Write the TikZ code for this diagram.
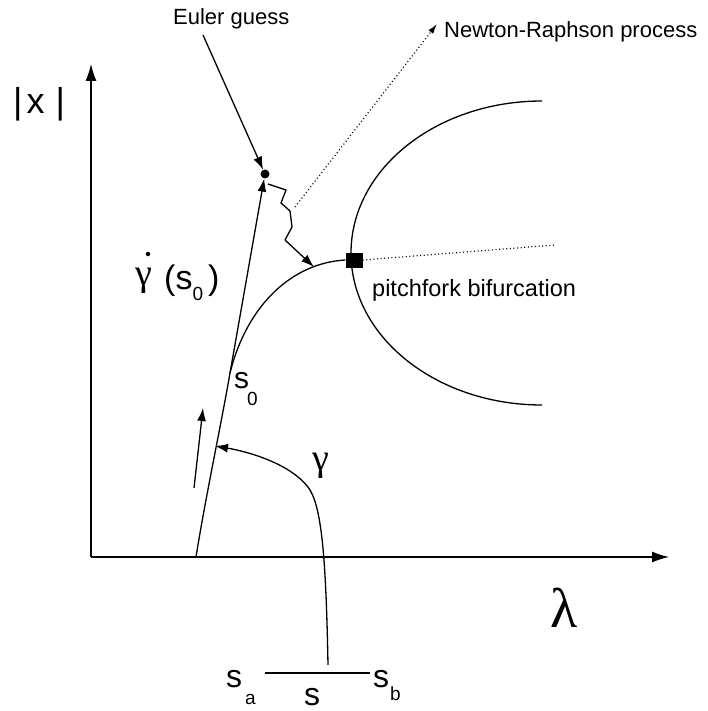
\documentclass[tikz,border=0pt]{standalone}
\usepackage{fontspec}
\setmainfont{Liberation Sans}
\newfontfamily\grk{Liberation Serif}
\usetikzlibrary{arrows.meta}
\tikzset{
  ln/.style={line width=1.3pt},
  arr/.style={ln,-{Latex[length=13pt,width=9pt]}},
  axarr/.style={ln,-{Latex[length=17pt,width=11pt]}},
  dots/.style={line width=1.2pt,dash pattern=on 1pt off 2.6pt},
  lbl/.style={inner sep=0pt,font=\fontsize{22}{22}\selectfont},
  big/.style={inner sep=0pt,font=\fontsize{34}{34}\selectfont},
  sub/.style={inner sep=0pt,font=\fontsize{19}{19}\selectfont},
}
\begin{document}
\begin{tikzpicture}[x=1pt,y=-1pt]
\useasboundingbox (0,0) rectangle (707,711);
% axes
\coordinate (O) at (91,557);
\coordinate (Y) at (91,64);
\coordinate (X) at (669,557);
\draw[axarr] (O) -- (Y);
\draw[axarr] (O) -- (X);
% labels of axes
\node[anchor=base west,inner sep=0pt,font=\fontsize{36}{36}\selectfont] (xl) at (13,114) {|\kern4pt x \kern1pt|};
\node[inner sep=0pt,font=\grk\fontsize{56}{56}\selectfont] (lam) at (564,608) {λ};
% points
\node[circle,fill,inner sep=0pt,minimum size=9pt] (E) at (265,174) {};
\node[fill,inner sep=0pt,minimum width=17pt,minimum height=15pt] (B) at (354,260) {};
\coordinate (C0) at (196,557);
\coordinate (S0) at (230,373);
% solution curve
\draw[ln] (C0) .. controls (205,500) and (222,420) .. (S0)
  .. controls (247,305) and (292,263) .. (B.west);
% tangent (Euler predictor)
\draw[arr] (S0) -- (E);
% pitchfork half ellipse
\coordinate (PT) at (542,101);
\coordinate (PL) at (351,253);
\coordinate (PB) at (542,405);
\draw[ln] (PT) .. controls (436.5,101) and (351,169) .. (PL)
  .. controls (351,337) and (436.5,405) .. (PB);
% dotted continuation
\coordinate (DE) at (555,245);
\draw[dots] (B.east) -- (DE);
% Euler guess label and arrow
\node[lbl,anchor=base west] (eu) at (173,25) {Euler guess};
\coordinate (EA) at (203,35);
\draw[arr] (EA) -- (E);
% Newton-Raphson zigzag
\coordinate (Z0) at (268,184);
\coordinate (Z1) at (286,190);
\coordinate (Z2) at (281,203);
\coordinate (Z3) at (290,211);
\coordinate (Z4) at (292,227);
\coordinate (Z5) at (285,240);
\coordinate (Z6) at (314,267);
\draw[ln] (Z0) -- (Z1) -- (Z2) -- (Z3) -- (Z4) -- (Z5);
\draw[arr] (Z5) -- (Z6);
% Newton-Raphson label and dotted pointer
\node[lbl,anchor=base west] (nr) at (444,38) {Newton-Raphson process};
\coordinate (N0) at (295,207);
\coordinate (N1) at (437,24);
\draw[dots,-{Latex[length=10pt,width=6pt]}] (N0) -- (N1);
% pitchfork label
\node[inner sep=0pt,font=\fontsize{23.5}{23.5}\selectfont,anchor=base west] (pf) at (372,296) {pitchfork bifurcation};
% gamma dot label
\node[inner sep=0pt,font=\grk\fontsize{38}{38}\selectfont,anchor=base] (gd) at (144,285) {γ};
\node[circle,fill,inner sep=0pt,minimum size=4.5pt] (gdot) at (148,254) {};
\node[big,anchor=base west] (gs) at (164,289) {(s\raisebox{-11pt}{\fontsize{19}{19}\selectfont 0}\kern5pt)};
% s0 label
\node[inner sep=0pt,font=\fontsize{30}{30}\selectfont,anchor=base west] (s0s) at (234,388) {s};
\node[sub,anchor=base west] (s0n) at (247,405) {0};
% small direction arrow
\coordinate (A0) at (194,488);
\coordinate (A1) at (203,408);
\draw[arr] (A0) -- (A1);
% gamma mapping curve
\coordinate (G0) at (328,665);
\coordinate (G1) at (308,487);
\coordinate (G2) at (215,446);
\draw[arr] (G0) .. controls (326,560) and (322,505) .. (G1)
  .. controls (290,464) and (250,452) .. (G2);
\node[inner sep=0pt,font=\grk\fontsize{38}{38}\selectfont] (gl) at (321,466) {γ};
% parameter interval
\node[inner sep=0pt,font=\fontsize{32}{32}\selectfont,anchor=base west] (sa) at (226,687) {s};
\node[sub,anchor=base west] (sasub) at (245,704) {a};
\node[inner sep=0pt,font=\fontsize{32}{32}\selectfont,anchor=base west] (sb) at (373,687) {s};
\node[sub,anchor=base west] (sbsub) at (390,700) {b};
\coordinate (I0) at (265,673);
\coordinate (I1) at (370,673);
\draw[ln] (I0) -- (I1);
\node[inner sep=0pt,font=\fontsize{32}{32}\selectfont,anchor=base west] (sm) at (304,705) {s};
\end{tikzpicture}
\end{document}
